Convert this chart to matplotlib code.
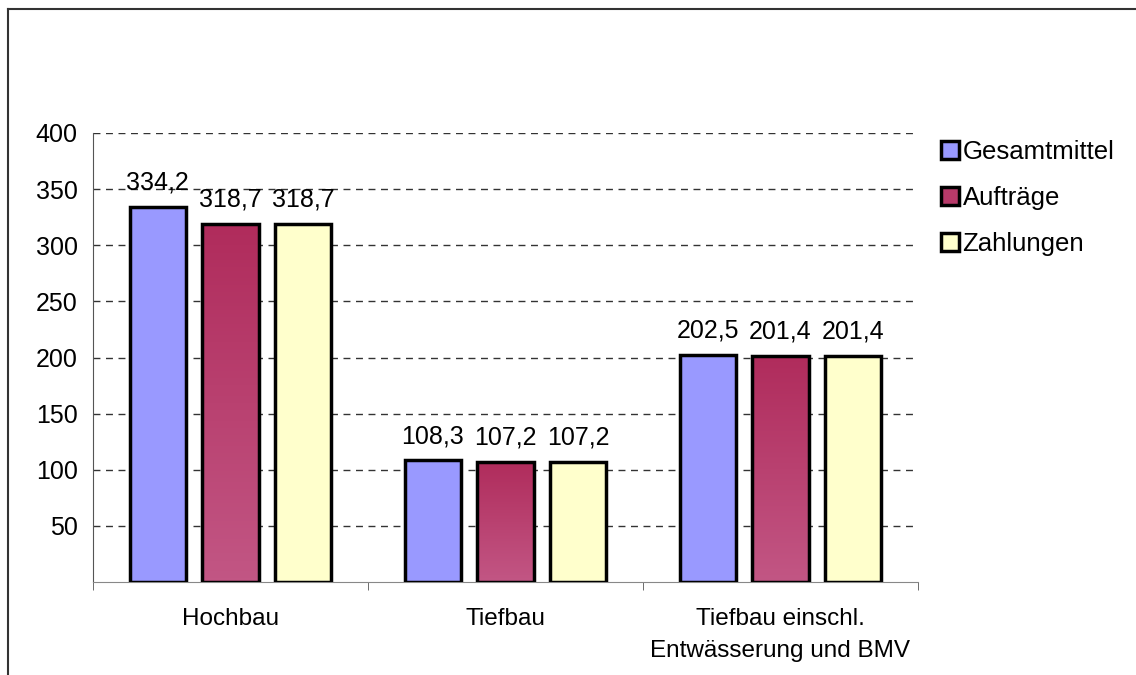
import numpy as np
import matplotlib.pyplot as plt
from matplotlib.lines import Line2D
from matplotlib.colors import LinearSegmentedColormap

plt.rcParams['font.family'] = ['Liberation Sans', 'DejaVu Sans']

categories = ["Hochbau", "Tiefbau", "Tiefbau einschl.\nEntwässerung und BMV"]
series = ["Gesamtmittel", "Aufträge", "Zahlungen"]
gesamtmittel = [334.2, 108.3, 202.5]
auftraege = [318.7, 107.2, 201.4]
zahlungen = [318.7, 107.2, 201.4]
values = [gesamtmittel, auftraege, zahlungen]
colors = ["#9999FF", "#B3305F", "#FFFFCC"]
labels_fmt = lambda v: ("%.1f" % v).replace(".", ",")
fs = 18

fig = plt.figure(figsize=(11.36, 6.75), dpi=100)
ax = fig.add_axes([93/1136, 1-582/675, 825/1136, 449/675])

x = np.arange(len(categories))
width = 0.204
offsets = [-0.265, 0, 0.265]
grad = LinearSegmentedColormap.from_list("g", ["#C25684", "#B02C5C"])

for s in range(3):
    bars = ax.bar(x + offsets[s], values[s], width, color=colors[s],
                  edgecolor="black", linewidth=2.5, zorder=3,
                  label=series[s])
    for b, v in zip(bars, values[s]):
        if s == 1:
            b.set_facecolor("none")
            img = ax.imshow(np.linspace(0, 1, 100).reshape(-1, 1), cmap=grad,
                            aspect="auto", origin="lower", zorder=2.9,
                            extent=[b.get_x(), b.get_x() + b.get_width(), 0, v])
            img.set_clip_path(b)
        ax.text(b.get_x() + b.get_width()/2, v + 11, labels_fmt(v),
                ha="center", va="bottom", fontsize=fs, zorder=4)

ax.set_xlim(-0.5, 2.5)
ax.set_ylim(0, 400)
ax.set_yticks([50, 100, 150, 200, 250, 300, 350, 400])
ax.set_xticks(x)
ax.set_xticklabels(categories, fontsize=17.5, linespacing=1.55)
ax.set_xticks([-0.5, 0.5, 1.5, 2.5], minor=True)
ax.tick_params(axis="x", which="major", length=0, pad=19)
ax.tick_params(axis="x", which="minor", length=6, color="#555555", direction="out")
ax.tick_params(axis="y", length=0, labelsize=fs, pad=11)
ax.yaxis.grid(True, linestyle=(0, (5, 4)), color="#333333", linewidth=1)
ax.set_axisbelow(True)
for sp in ["top", "right"]:
    ax.spines[sp].set_visible(False)
ax.spines["left"].set_color("#555555")
ax.spines["bottom"].set_color("#888888")

ax.legend(loc="upper left", bbox_to_anchor=(1.015, 1.007), frameon=False,
          fontsize=18.5, handlelength=0.7, handleheight=0.7, handletextpad=0.15,
          labelspacing=0.85, borderaxespad=0)
leg = ax.get_legend()
for h in leg.legend_handles:
    h.set_linewidth(2.5)
leg.legend_handles[1].set_facecolor("#B83A6A")

# outer border (top and left visible)
fig.add_artist(Line2D([8/1136, 1], [1-9/675, 1-9/675], color="#333333", linewidth=1.5))
fig.add_artist(Line2D([8/1136, 8/1136], [0, 1-9/675], color="#333333", linewidth=1.5))

fig.savefig("out.png", dpi=100)
